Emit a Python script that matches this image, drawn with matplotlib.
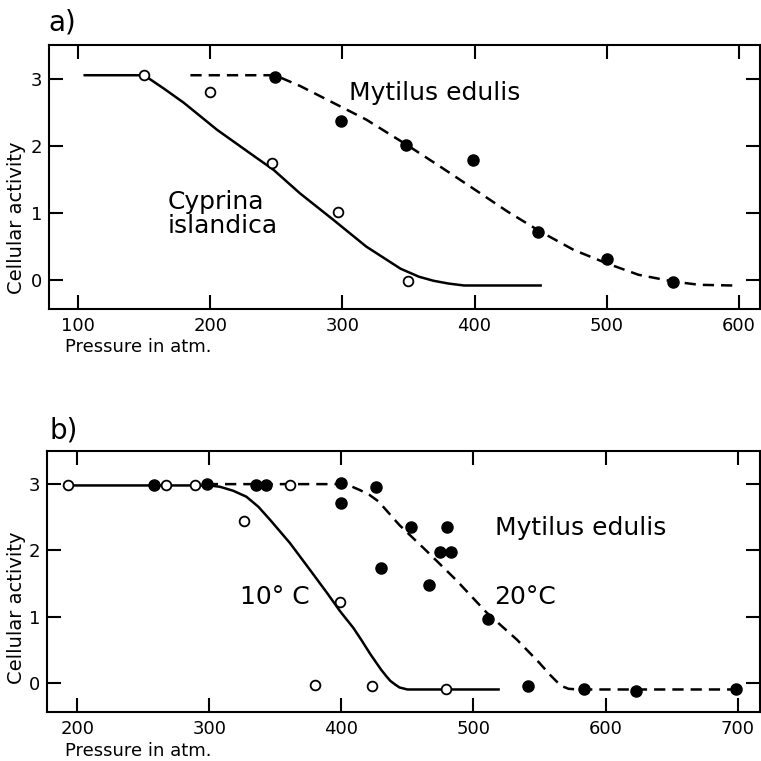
import matplotlib
matplotlib.use("Agg")
import matplotlib.pyplot as plt

plt.rcParams['font.family'] = ['DejaVu Sans']

# --- panel a : Cyprina islandica (open) and Mytilus edulis (filled)
cyp_p = [150, 200, 247, 297, 350]
cyp_act = [3.05, 2.8, 1.75, 1.01, -0.02]
cyp_curve_p = [105, 150, 165, 180, 205, 230, 248, 268, 293, 318, 344, 358, 369, 380, 392, 450]
cyp_curve_act = [3.05, 3.05, 2.85, 2.64, 2.24, 1.89, 1.64, 1.29, 0.90, 0.50, 0.17, 0.05, -0.01, -0.05, -0.08, -0.08]

myt_p = [249, 299, 348, 399, 448, 500, 550]
myt_act = [3.03, 2.37, 2.01, 1.79, 0.71, 0.31, -0.03]
myt_curve_p = [185, 249, 268, 293, 318, 349, 374, 400, 425, 450, 475, 500, 524, 550, 570, 595]
myt_curve_act = [3.05, 3.05, 2.89, 2.64, 2.39, 2.01, 1.69, 1.35, 1.02, 0.72, 0.45, 0.25, 0.08, -0.02, -0.07, -0.08]

# --- panel b : Mytilus edulis at 10 C (open) and 20 C (filled)
c10_p = [193, 267, 289, 326, 361, 399, 380, 423, 479]
c10_act = [2.98, 2.98, 2.98, 2.44, 2.98, 1.22, -0.03, -0.05, -0.1]
c10_curve_p = [193, 300, 308, 318, 328, 337, 346, 361, 376, 389, 399, 409, 415, 422, 430, 434, 437, 441, 444, 450, 519]
c10_curve_act = [2.98, 2.98, 2.96, 2.9, 2.81, 2.66, 2.46, 2.11, 1.71, 1.36, 1.08, 0.83, 0.65, 0.43, 0.2, 0.1, 0.03, -0.03, -0.07, -0.1, -0.1]

c20_p = [258, 298, 335, 343, 400, 400, 426, 430, 453, 480, 475, 483, 466, 511, 541, 584, 623, 699]
c20_act = [2.98, 3.0, 2.98, 2.98, 3.02, 2.71, 2.96, 1.74, 2.35, 2.35, 1.97, 1.97, 1.47, 0.97, -0.05, -0.1, -0.12, -0.09]
c20_curve_p = [298, 400, 407, 414, 421, 428, 444, 464, 487, 510, 533, 550, 558, 563, 567, 572, 580, 699]
c20_curve_act = [3.0, 3.0, 2.97, 2.91, 2.84, 2.74, 2.38, 2.0, 1.55, 1.06, 0.65, 0.3, 0.12, 0.02, -0.05, -0.09, -0.1, -0.1]

W = 761.0
fig = plt.figure(figsize=(7.61, 7.61), dpi=100)
ax1 = fig.add_axes([49/W, 1-309/W, 711/W, 264/W])
ax2 = fig.add_axes([47/W, 1-712/W, 713/W, 261/W])

lw = 1.8
dash = (4.5, 2.8)
open_kw = dict(ls='none', marker='o', ms=7, mfc='white', mec='black', mew=1.3, zorder=5)
fill_kw = dict(ls='none', marker='o', ms=8, mfc='black', mec='black', zorder=5)

# panel a
ax1.plot(cyp_curve_p, cyp_curve_act, color='black', lw=lw)
ax1.plot(myt_curve_p, myt_curve_act, color='black', lw=lw, ls=(0, dash))
ax1.plot(cyp_p, cyp_act, **open_kw)
ax1.plot(myt_p, myt_act, **fill_kw)
ax1.set_xlim(78, 616)
ax1.set_ylim(-0.43, 3.5)
ax1.set_xticks([100, 200, 300, 400, 500, 600])
ax1.text(305, 2.79, "Mytilus edulis", fontsize=18, ha='left', va='center')
ax1.text(168, 0.99, "Cyprina\nislandica", fontsize=18, ha='left', va='center', linespacing=1.0)

# panel b
ax2.plot(c10_curve_p, c10_curve_act, color='black', lw=lw)
ax2.plot(c20_curve_p, c20_curve_act, color='black', lw=lw, ls=(0, dash))
ax2.plot(c10_p, c10_act, **open_kw)
ax2.plot(c20_p, c20_act, **fill_kw)
ax2.set_xlim(177, 717)
ax2.set_ylim(-0.44, 3.5)
ax2.set_xticks([200, 300, 400, 500, 600, 700])
ax2.text(516, 2.34, "Mytilus edulis", fontsize=18, ha='left', va='center')
ax2.text(516, 1.29, "20°C", fontsize=18, ha='left', va='center')
ax2.text(323, 1.29, "10° C", fontsize=18, ha='left', va='center')

for ax in [ax1, ax2]:
    ax.set_yticks([0, 1, 2, 3])
    ax.tick_params(direction='in', length=10, width=1.5, labelsize=13,
                   top=True, right=True, pad=6)
    ax.tick_params(axis='y', pad=5)
    for s in ax.spines.values():
        s.set_linewidth(1.5)

fig.text(48/W, 1-22/W, "a)", fontsize=20, ha='left', va='center')
fig.text(49/W, 1-430/W, "b)", fontsize=20, ha='left', va='center')
fig.text(65/W, 1-347/W, "Pressure in atm.", fontsize=13, ha='left', va='center')
fig.text(65/W, 1-751/W, "Pressure in atm.", fontsize=13, ha='left', va='center')
fig.text(17/W, 1-218/W, "Cellular activity", fontsize=14, rotation=90, ha='center', va='center')
fig.text(17/W, 1-608/W, "Cellular activity", fontsize=14, rotation=90, ha='center', va='center')

fig.savefig("out.png", dpi=100)
